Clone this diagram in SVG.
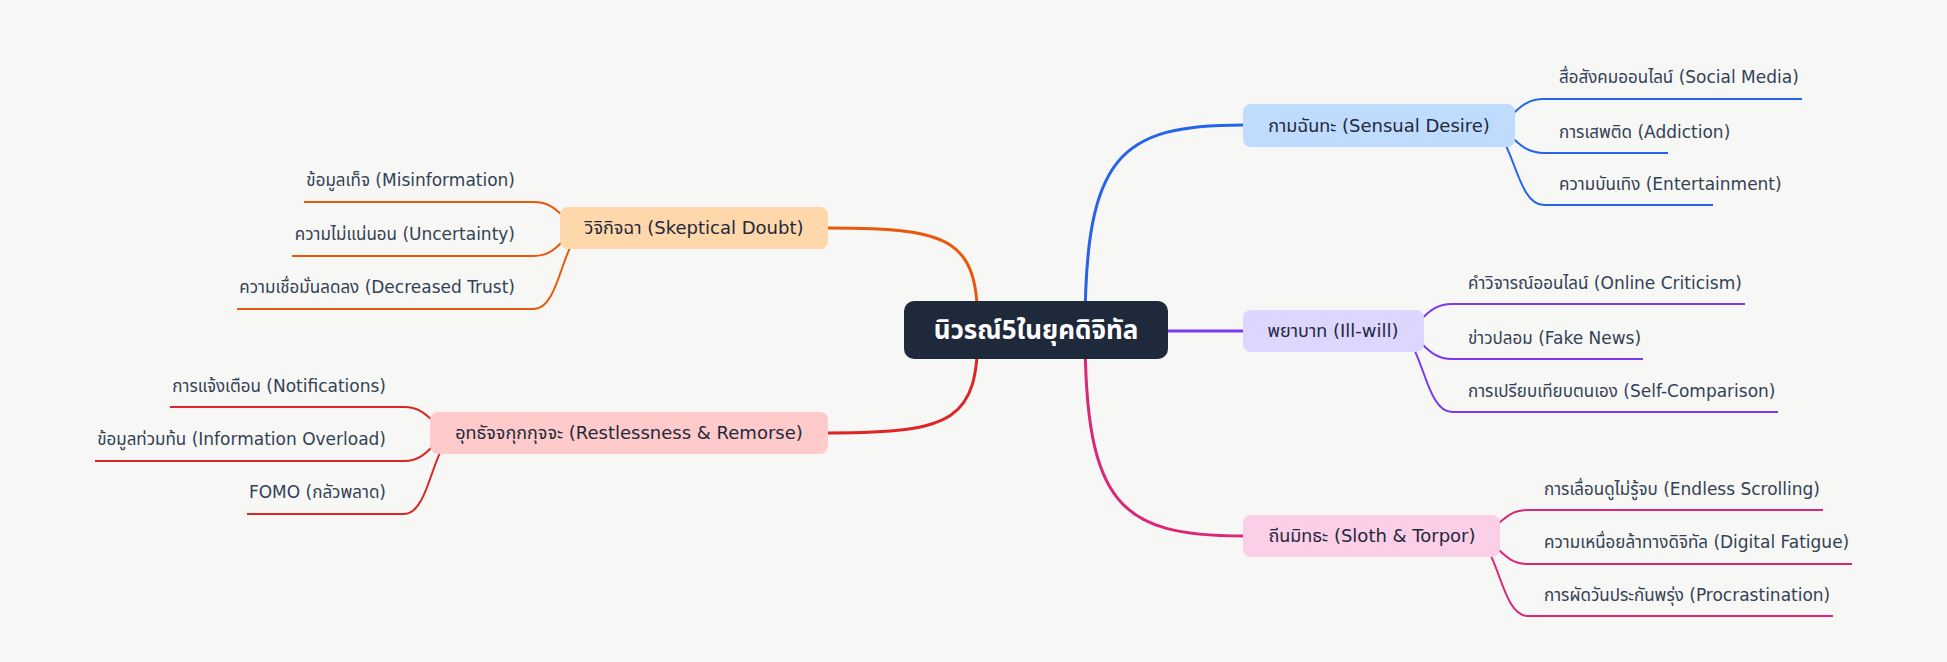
<svg xmlns="http://www.w3.org/2000/svg" width="1947" height="662" viewBox="0 0 1947 662">
<style>
text{font-family:"DejaVu Sans","Noto Sans Thai",sans-serif;}
.leaf{font-size:17px;fill:#334155;}
.lbl{font-size:18px;fill:#1e293b;text-anchor:middle;}
.title{font-family:"Noto Sans","Noto Sans Thai",sans-serif;font-size:26px;font-weight:bold;fill:#ffffff;text-anchor:middle;}
.r{text-anchor:end;}
.main{fill:none;stroke-width:3;stroke-linecap:round;}
.sub{fill:none;stroke-width:2;}
.blue{stroke:#2563eb;} .purple{stroke:#7c3aed;} .pink{stroke:#db2777;} .orange{stroke:#ea580c;} .red{stroke:#dc2626;}
</style>
<rect width="1947" height="662" fill="#f7f7f5"/>
<g id="connectors">
  <path class="main blue" d="M1085,330 C1085,155 1120,125 1243,125"/>
  <path class="main purple" d="M1168,331 H1243"/>
  <path class="main pink" d="M1085,330 C1085,505 1120,536 1243,536"/>
  <path class="main orange" d="M978,330 C978,240 955,228 828,228"/>
  <path class="main red" d="M978,330 C978,420 955,433 828,433"/>
  <path class="sub blue" d="M1485,126 C1514,126 1514,99 1544,99 H1802"/>
  <path class="sub blue" d="M1485,126 C1514,126 1514,153 1544,153 H1668"/>
  <path class="sub blue" d="M1485,126 C1514,126 1514,205 1544,205 H1713"/>
  <path class="sub purple" d="M1394,331 C1423,331 1423,304 1452,304 H1745"/>
  <path class="sub purple" d="M1394,331 C1423,331 1423,359 1452,359 H1643"/>
  <path class="sub purple" d="M1394,331 C1423,331 1423,412 1452,412 H1778"/>
  <path class="sub pink" d="M1470,536 C1499,536 1499,510 1528,510 H1823"/>
  <path class="sub pink" d="M1470,536 C1499,536 1499,564 1528,564 H1852"/>
  <path class="sub pink" d="M1470,536 C1499,536 1499,616 1528,616 H1833"/>
  <path class="sub orange" d="M590,228 C562,228 562,202 534,202 H304"/>
  <path class="sub orange" d="M590,228 C562,228 562,256 534,256 H292"/>
  <path class="sub orange" d="M590,228 C562,228 562,309 534,309 H237"/>
  <path class="sub red" d="M460,433 C432,433 432,407 404,407 H170"/>
  <path class="sub red" d="M460,433 C432,433 432,461 404,461 H95"/>
  <path class="sub red" d="M460,433 C432,433 432,514 404,514 H247"/>
</g>
<g id="root">
  <rect x="904" y="301" width="264" height="58" rx="10" fill="#1e293b"/>
  <text class="title" x="1036" y="339">นิวรณ์5ในยุคดิจิทัล</text>
</g>
<g id="n-kama">
  <rect x="1243" y="104" width="272" height="43" rx="8" fill="#bfdbfe"/>
  <text class="lbl" x="1379" y="132">กามฉันทะ (Sensual Desire)</text>
</g>
<g id="n-kama-1"><text class="leaf" x="1559" y="83">สื่อสังคมออนไลน์ (Social Media)</text></g>
<g id="n-kama-2"><text class="leaf" x="1559" y="138">การเสพติด (Addiction)</text></g>
<g id="n-kama-3"><text class="leaf" x="1559" y="190">ความบันเทิง (Entertainment)</text></g>
<g id="n-byapada">
  <rect x="1243" y="310" width="181" height="42" rx="8" fill="#ddd6fe"/>
  <text class="lbl" x="1333" y="337">พยาบาท (Ill-will)</text>
</g>
<g id="n-byapada-1"><text class="leaf" x="1468" y="289">คำวิจารณ์ออนไลน์ (Online Criticism)</text></g>
<g id="n-byapada-2"><text class="leaf" x="1468" y="344">ข่าวปลอม (Fake News)</text></g>
<g id="n-byapada-3"><text class="leaf" x="1468" y="397">การเปรียบเทียบตนเอง (Self-Comparison)</text></g>
<g id="n-thina">
  <rect x="1243" y="515" width="257" height="42" rx="8" fill="#fbcfe8"/>
  <text class="lbl" x="1372" y="542">ถีนมิทธะ (Sloth &amp; Torpor)</text>
</g>
<g id="n-thina-1"><text class="leaf" x="1544" y="495">การเลื่อนดูไม่รู้จบ (Endless Scrolling)</text></g>
<g id="n-thina-2"><text class="leaf" x="1544" y="548">ความเหนื่อยล้าทางดิจิทัล (Digital Fatigue)</text></g>
<g id="n-thina-3"><text class="leaf" x="1544" y="601">การผัดวันประกันพรุ่ง (Procrastination)</text></g>
<g id="n-vici">
  <rect x="560" y="207" width="268" height="42" rx="8" fill="#fed7aa"/>
  <text class="lbl" x="694" y="234">วิจิกิจฉา (Skeptical Doubt)</text>
</g>
<g id="n-vici-1"><text class="leaf r" x="515" y="186">ข้อมูลเท็จ (Misinformation)</text></g>
<g id="n-vici-2"><text class="leaf r" x="515" y="240">ความไม่แน่นอน (Uncertainty)</text></g>
<g id="n-vici-3"><text class="leaf r" x="515" y="293">ความเชื่อมั่นลดลง (Decreased Trust)</text></g>
<g id="n-uddhacca">
  <rect x="430" y="412" width="398" height="42" rx="8" fill="#fecaca"/>
  <text class="lbl" x="629" y="439">อุทธัจจกุกกุจจะ (Restlessness &amp; Remorse)</text>
</g>
<g id="n-uddhacca-1"><text class="leaf r" x="386" y="392">การแจ้งเตือน (Notifications)</text></g>
<g id="n-uddhacca-2"><text class="leaf r" x="386" y="445">ข้อมูลท่วมท้น (Information Overload)</text></g>
<g id="n-uddhacca-3"><text class="leaf r" x="386" y="498">FOMO (กลัวพลาด)</text></g>
</svg>
